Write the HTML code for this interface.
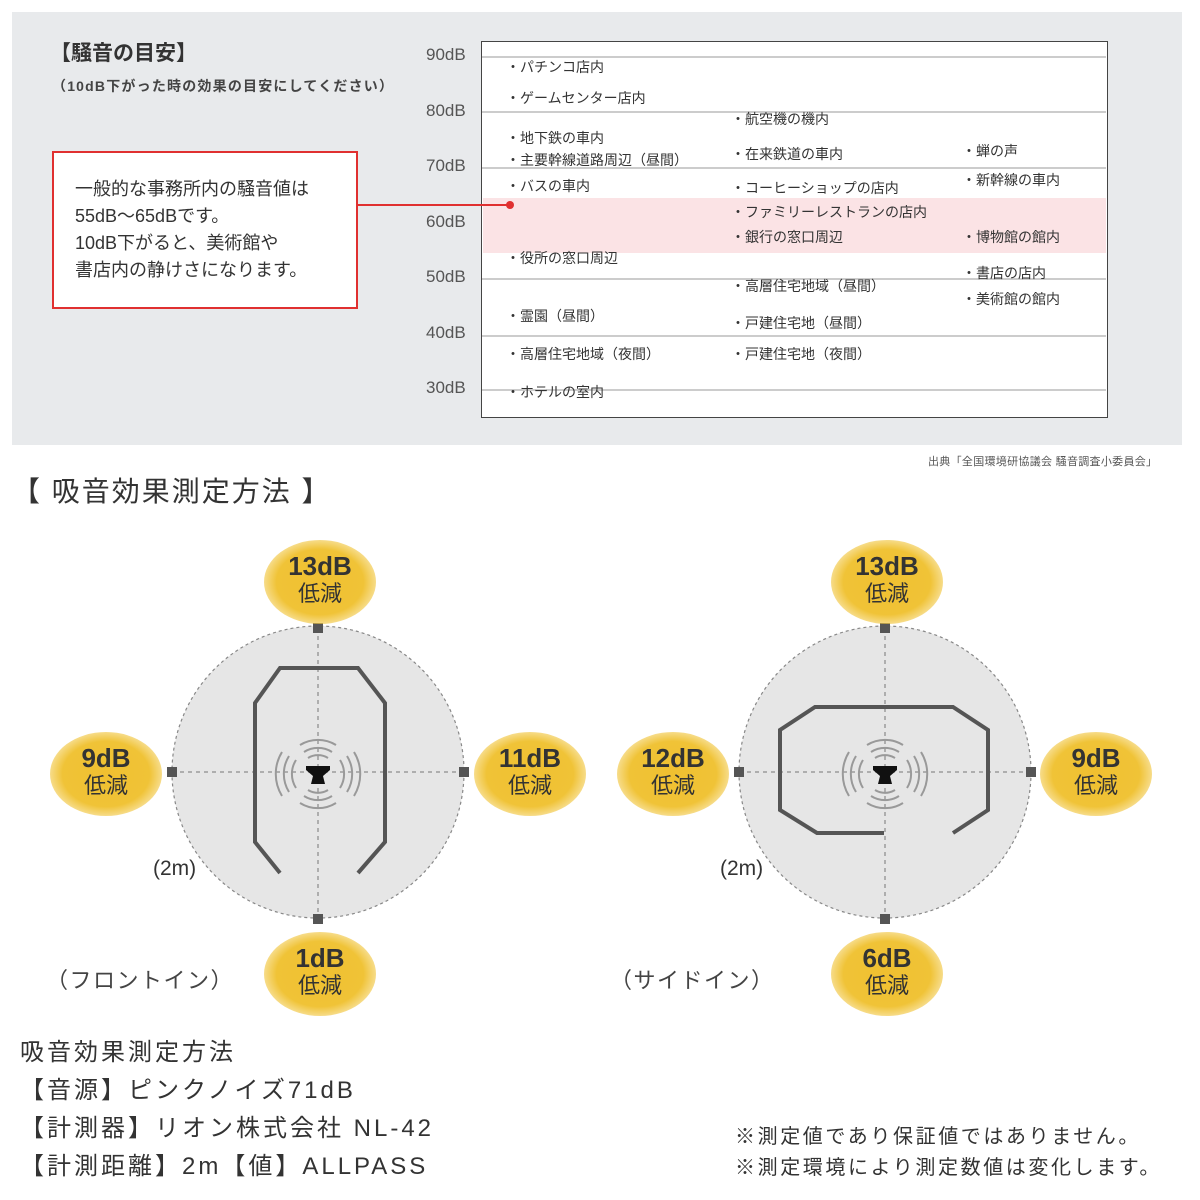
<!DOCTYPE html>
<html><head><meta charset="utf-8"><style>
body{margin:0;width:1200px;height:1200px;background:#fff;position:relative;overflow:hidden;font-family:"Liberation Sans","Noto Sans CJK JP",sans-serif;color:#333}
.a{position:absolute;white-space:nowrap}
.t{font-size:14px;color:#333}
.db{font-size:17px;color:#555}
.b{position:absolute;width:112px;height:84px;border-radius:50%;background:radial-gradient(ellipse at center,#f0c030 0%,#f0c337 55%,rgba(242,200,70,0.6) 72%,rgba(255,255,255,0) 100%);text-align:center;font-weight:bold;color:#333}
.b .n{font-size:26px;line-height:28px;margin-top:12px}
.b .l{font-size:22px;line-height:28px;font-weight:normal}
</style></head><body>
<div class="a" style="left:12px;top:12px;width:1170px;height:433px;background:#e8eaec"></div>
<div class="a" style="left:50px;top:37px;font-size:21px;font-weight:bold">【騒音の目安】</div>
<div class="a" style="left:52px;top:76px;font-size:14px;font-weight:bold;color:#444;letter-spacing:1.2px">（10dB下がった時の効果の目安にしてください）</div>
<div class="a" style="left:52px;top:151px;width:302px;height:154px;border:2px solid #e03030;background:#fff"></div>
<div class="a" style="left:75px;top:176px;font-size:18px;line-height:27px">一般的な事務所内の騒音値は<br>55dB～65dBです。<br>10dB下がると、美術館や<br>書店内の静けさになります。</div>
<div class="a" style="left:481px;top:41px;width:625px;height:375px;border:1.5px solid #444;background:#fff"></div>
<div class="a" style="left:483px;top:198px;width:623px;height:55px;background:#fbe3e5"></div>
<div class="a" style="left:356px;top:204px;width:154px;height:2px;background:#e03030"></div>
<div class="a" style="left:506px;top:201px;width:8px;height:8px;border-radius:50%;background:#e03030"></div>
<svg class="a" style="left:0;top:0" width="1200" height="450">
<g stroke="#bbb" stroke-width="1.5">
<line x1="482" y1="57" x2="1106" y2="57"/><line x1="482" y1="112" x2="1106" y2="112"/><line x1="482" y1="168" x2="1106" y2="168"/><line x1="482" y1="279" x2="1106" y2="279"/><line x1="482" y1="336" x2="1106" y2="336"/><line x1="482" y1="390" x2="1106" y2="390"/>
</g></svg>
<div class="a db" style="left:426px;top:45px">90dB</div>
<div class="a db" style="left:426px;top:101px">80dB</div>
<div class="a db" style="left:426px;top:156px">70dB</div>
<div class="a db" style="left:426px;top:212px">60dB</div>
<div class="a db" style="left:426px;top:267px">50dB</div>
<div class="a db" style="left:426px;top:323px">40dB</div>
<div class="a db" style="left:426px;top:378px">30dB</div>
<div class="a t" style="left:506px;top:57px">・パチンコ店内</div>
<div class="a t" style="left:506px;top:88px">・ゲームセンター店内</div>
<div class="a t" style="left:506px;top:128px">・地下鉄の車内</div>
<div class="a t" style="left:506px;top:150px">・主要幹線道路周辺（昼間）</div>
<div class="a t" style="left:506px;top:176px">・バスの車内</div>
<div class="a t" style="left:506px;top:248px">・役所の窓口周辺</div>
<div class="a t" style="left:506px;top:306px">・霊園（昼間）</div>
<div class="a t" style="left:506px;top:344px">・高層住宅地域（夜間）</div>
<div class="a t" style="left:506px;top:382px">・ホテルの室内</div>
<div class="a t" style="left:731px;top:109px">・航空機の機内</div>
<div class="a t" style="left:731px;top:144px">・在来鉄道の車内</div>
<div class="a t" style="left:731px;top:178px">・コーヒーショップの店内</div>
<div class="a t" style="left:731px;top:202px">・ファミリーレストランの店内</div>
<div class="a t" style="left:731px;top:227px">・銀行の窓口周辺</div>
<div class="a t" style="left:731px;top:276px">・高層住宅地域（昼間）</div>
<div class="a t" style="left:731px;top:313px">・戸建住宅地（昼間）</div>
<div class="a t" style="left:731px;top:344px">・戸建住宅地（夜間）</div>
<div class="a t" style="left:962px;top:141px">・蝉の声</div>
<div class="a t" style="left:962px;top:170px">・新幹線の車内</div>
<div class="a t" style="left:962px;top:227px">・博物館の館内</div>
<div class="a t" style="left:962px;top:263px">・書店の店内</div>
<div class="a t" style="left:962px;top:289px">・美術館の館内</div>
<div class="a" style="left:928px;top:453px;font-size:11px;color:#555;letter-spacing:0.3px">出典「全国環境研協議会 騒音調査小委員会」</div>
<div class="a" style="left:12px;top:470px;font-size:28px;color:#333;letter-spacing:2px">【 吸音効果測定方法 】</div>

<svg class="a" style="left:0;top:0" width="1200" height="1200">
<defs>
<g id="spk">
<g fill="none" stroke="#999" stroke-width="2">
<path d="M-14,-22 A26,26 0 0 1 14,-22"/><path d="M-10,-16 A19,19 0 0 1 10,-16"/><path d="M-18,-29 A34,34 0 0 1 18,-29"/>
<path d="M-14,22 A26,26 0 0 0 14,22"/><path d="M-10,16 A19,19 0 0 0 10,16"/><path d="M-18,29 A34,34 0 0 0 18,29"/>
<path d="M-22,-14 A26,26 0 0 0 -22,14"/><path d="M-29,-18 A34,34 0 0 0 -29,18"/><path d="M-36,-22 A42,42 0 0 0 -36,22"/>
<path d="M22,-14 A26,26 0 0 1 22,14"/><path d="M29,-18 A34,34 0 0 1 29,18"/><path d="M36,-22 A42,42 0 0 1 36,22"/>
</g>
<path d="M-12,-8 L12,-8 L12,-4 L5,2 L7,10 L-7,10 L-5,2 L-12,-4Z" fill="#111"/>
</g>
</defs>
<g>
<circle cx="318" cy="772" r="146" fill="#e6e6e6" stroke="#888" stroke-width="1.2" stroke-dasharray="3,3"/>
<line x1="318" y1="628" x2="318" y2="918" stroke="#777" stroke-dasharray="4,4"/>
<line x1="172" y1="772" x2="464" y2="772" stroke="#777" stroke-dasharray="4,4"/>
<g fill="#555"><rect x="313" y="623" width="10" height="10"/><rect x="313" y="914" width="10" height="10"/><rect x="167" y="767" width="10" height="10"/><rect x="459" y="767" width="10" height="10"/></g>
<polyline points="280,873 255,842 255,703 280,668 358,668 385,703 385,842 358,873" fill="none" stroke="#555" stroke-width="4"/>
<use href="#spk" x="318" y="774"/>
</g>
<g>
<circle cx="885" cy="772" r="146" fill="#e6e6e6" stroke="#888" stroke-width="1.2" stroke-dasharray="3,3"/>
<line x1="885" y1="628" x2="885" y2="918" stroke="#777" stroke-dasharray="4,4"/>
<line x1="739" y1="772" x2="1031" y2="772" stroke="#777" stroke-dasharray="4,4"/>
<g fill="#555"><rect x="880" y="623" width="10" height="10"/><rect x="880" y="914" width="10" height="10"/><rect x="734" y="767" width="10" height="10"/><rect x="1026" y="767" width="10" height="10"/></g>
<polyline points="884,833 817,833 780,810 780,730 815,707 953,707 988,730 988,810 953,833" fill="none" stroke="#555" stroke-width="4"/>
<use href="#spk" x="885" y="774"/>
</g>
</svg>
<div class="a" style="left:153px;top:857px;font-size:21px">(2m)</div>
<div class="a" style="left:720px;top:857px;font-size:21px">(2m)</div>
<div class="a" style="left:46px;top:963px;font-size:22px;color:#444;letter-spacing:1.5px">（フロントイン）</div>
<div class="a" style="left:610px;top:963px;font-size:22px;color:#444;letter-spacing:1.5px">（サイドイン）</div>

<div class="b" style="left:264px;top:540px"><div class="n">13dB</div><div class="l">低減</div></div>
<div class="b" style="left:50px;top:732px"><div class="n">9dB</div><div class="l">低減</div></div>
<div class="b" style="left:474px;top:732px"><div class="n">11dB</div><div class="l">低減</div></div>
<div class="b" style="left:264px;top:932px"><div class="n">1dB</div><div class="l">低減</div></div>
<div class="b" style="left:831px;top:540px"><div class="n">13dB</div><div class="l">低減</div></div>
<div class="b" style="left:617px;top:732px"><div class="n">12dB</div><div class="l">低減</div></div>
<div class="b" style="left:1040px;top:732px"><div class="n">9dB</div><div class="l">低減</div></div>
<div class="b" style="left:831px;top:932px"><div class="n">6dB</div><div class="l">低減</div></div>

<div class="a" style="left:20px;top:1034px;font-size:24px;line-height:38px;color:#333;letter-spacing:3px">吸音効果測定方法<br>【音源】ピンクノイズ71dB<br>【計測器】リオン株式会社 NL-42<br>【計測距離】2m【値】ALLPASS</div>
<div class="a" style="left:735px;top:1122px;font-size:20px;line-height:31px;color:#333;letter-spacing:2.6px">※測定値であり保証値ではありません。<br>※測定環境により測定数値は変化します。</div>
</body></html>
